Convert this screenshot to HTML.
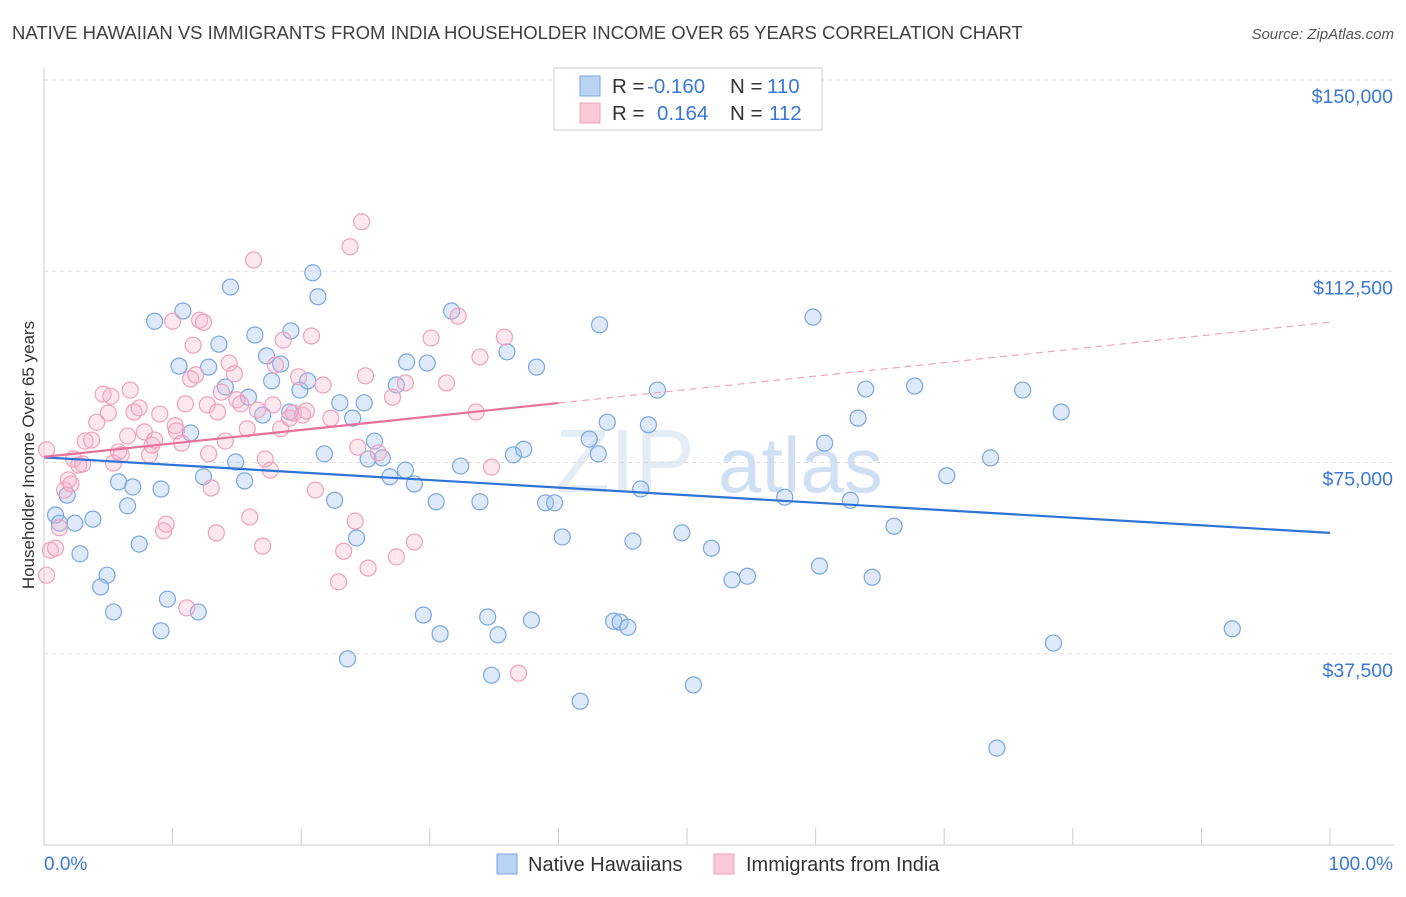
<!DOCTYPE html>
<html><head><meta charset="utf-8"><style>
body{margin:0;background:#fff;font-family:"Liberation Sans",sans-serif;}
svg text{font-family:"Liberation Sans",sans-serif;}
</style></head><body>
<svg id="chart" width="1406" height="892" xmlns="http://www.w3.org/2000/svg">
<text x="12" y="39" font-size="18.5" fill="#404040">NATIVE HAWAIIAN VS IMMIGRANTS FROM INDIA HOUSEHOLDER INCOME OVER 65 YEARS CORRELATION CHART</text>
<text x="1394" y="39" font-size="15" fill="#555" font-style="italic" text-anchor="end">Source: ZipAtlas.com</text>
<text transform="translate(34,455) rotate(-90)" font-size="17" fill="#333" text-anchor="middle">Householder Income Over 65 years</text>
<text x="555" y="492" font-size="90" fill="#e4ecf6" font-family="Liberation Serif">ZIP</text>
<text x="718" y="492" font-size="78" fill="#cfe0f4">atlas</text>
<g id="grid"></g><g id="pts"></g><g id="lines"></g>
<g>
<rect x="554" y="68" width="268" height="62" fill="#fff" stroke="#ccc"/>
<rect x="580" y="76" width="20" height="20" fill="#b9d3f3" stroke="#7aa6e0"/>
<rect x="580" y="103" width="20" height="20" fill="#f9c9d8" stroke="#f0a0bc"/>
<text x="612" y="93" font-size="20.5" fill="#333">R = </text><text x="647" y="93" font-size="20.5" fill="#3a78d8">-0.160</text>
<text x="730" y="93" font-size="20.5" fill="#333">N = </text><text x="767" y="93" font-size="20.5" fill="#3a78d8">110</text>
<text x="612" y="120" font-size="20.5" fill="#333">R = </text><text x="657" y="120" font-size="20.5" fill="#3a78d8">0.164</text>
<text x="730" y="120" font-size="20.5" fill="#333">N = </text><text x="769" y="120" font-size="20.5" fill="#3a78d8">112</text>
</g>
<text x="44" y="870" font-size="19" fill="#3a78d8">0.0%</text>
<text x="1393" y="870" font-size="19" fill="#3a78d8" text-anchor="end">100.0%</text>
<g>
<rect x="497" y="854" width="20" height="20" fill="#b9d3f3" stroke="#7aa6e0"/>
<text x="528" y="871" font-size="20" fill="#333">Native Hawaiians</text>
<rect x="714" y="854" width="20" height="20" fill="#f9c9d8" stroke="#f0a0bc"/>
<text x="746" y="871" font-size="20" fill="#333">Immigrants from India</text>
</g>
</svg>
<script>
const yTicks=[37500,75000,112500,150000];
const yTickLabels=["$37,500","$75,000","$112,500","$150,000"];
const xTicks=[0,10,20,30,40,50,60,70,80,90,100];
const blueX=[0.9,1.8,1.2,2.4,3.8,2.8,4.9,4.4,5.4,6.5,7.4,5.8,6.9,8.6,9.1,9.1,9.6,10.5,10.8,12.0,11.4,12.4,12.8,13.6,14.1,14.5,14.9,15.6,15.9,16.4,17.0,17.7,17.3,18.4,19.1,19.2,19.9,20.5,20.9,21.3,21.8,22.6,23.0,23.6,24.0,24.3,24.9,25.2,25.7,26.3,26.9,27.4,28.1,28.2,28.8,29.5,29.8,30.5,30.8,31.7,32.4,33.9,34.5,34.8,35.3,36.0,36.5,37.3,37.9,38.3,39.0,39.7,40.3,41.7,42.4,43.1,43.2,43.8,44.3,44.8,45.4,45.8,46.4,47.0,47.7,49.6,50.5,51.9,53.5,54.7,57.6,59.8,60.3,60.7,62.7,63.3,63.9,64.4,66.1,67.7,70.2,73.6,74.1,76.1,78.5,79.1,92.4];
const blueY=[64.7,68.6,63.1,63.1,63.9,57.1,52.9,50.6,45.7,66.5,59.0,71.2,70.2,102.7,69.8,42.0,48.2,93.9,104.7,45.7,80.8,72.2,93.7,98.2,89.8,109.4,75.1,71.4,87.8,100.0,84.3,91.0,95.9,94.3,84.9,100.8,89.2,91.0,112.2,107.5,76.7,67.6,86.7,36.5,83.7,60.2,86.7,75.7,79.2,75.9,72.2,90.2,73.5,94.7,70.8,45.1,94.5,67.3,41.4,104.7,74.3,67.3,44.7,33.3,41.2,96.7,76.5,77.6,44.1,93.7,67.1,67.1,60.4,28.2,79.6,76.7,102.0,82.9,43.9,43.7,42.7,59.6,69.8,82.4,89.2,61.2,31.4,58.2,52.0,52.7,68.2,103.5,54.7,78.8,67.6,83.7,89.4,52.5,62.5,90.0,72.4,75.9,19.0,89.2,39.6,84.9,42.4];
const pinkX=[0.2,0.5,0.9,1.2,1.6,1.9,2.1,2.3,2.7,3.0,3.2,3.7,4.1,4.6,5.0,5.2,5.4,5.8,6.0,6.5,6.7,7.0,7.4,7.8,8.2,8.4,8.6,9.0,9.3,9.5,10.0,10.2,10.3,10.7,11.0,11.1,11.4,11.6,11.8,12.1,12.4,12.7,12.8,13.0,13.4,13.5,13.8,14.1,14.4,14.8,15.0,15.3,15.8,16.0,16.3,16.6,17.0,17.2,17.6,17.8,18.0,18.4,18.6,19.1,19.4,19.8,20.1,20.4,20.8,21.1,21.7,22.3,22.9,23.3,23.8,24.2,24.4,24.7,25.0,25.2,26.0,27.1,27.4,28.1,28.8,30.1,31.3,32.2,33.6,33.9,34.8,35.8,36.9,0.2];
const pinkY=[52.9,57.8,58.2,62.2,69.6,71.6,70.8,75.7,74.5,74.7,79.2,79.4,82.9,88.4,84.7,88.0,74.9,77.1,76.5,80.2,89.2,84.9,85.7,81.0,76.5,78.4,79.4,84.5,61.6,62.9,102.7,82.2,81.2,78.8,86.5,46.5,91.4,98.0,92.2,102.9,102.5,86.3,76.7,70.0,61.2,84.9,88.8,79.2,94.5,92.4,87.3,86.5,81.6,64.3,114.7,85.3,58.6,75.7,73.5,86.3,94.1,81.6,99.0,83.7,84.7,91.8,84.3,85.1,99.8,69.6,90.2,83.7,51.6,57.6,117.3,63.5,78.0,122.2,92.0,54.3,76.9,87.8,56.5,90.6,59.4,99.4,90.6,103.7,84.9,95.7,74.1,99.6,33.7,77.5];
const blueTrend=[76.0,61.2];
const pinkTrend=[76.1,102.5];
const pinkSolidEnd=40;

const NS="http://www.w3.org/2000/svg";
const X0=44,X1=1330,YB=845,YT=80;
const sx=v=>X0+(X1-X0)*v/100;
const sy=v=>YB-(YB-YT)*v/150000;
function mk(tag,attrs,parent){const e=document.createElementNS(NS,tag);for(const k in attrs)e.setAttribute(k,attrs[k]);parent.appendChild(e);return e;}
const grid=document.getElementById('grid');
mk('line',{x1:X0,y1:68,x2:X0,y2:YB,stroke:'#ccc'},grid);
mk('line',{x1:X0,y1:YB,x2:1394,y2:YB,stroke:'#ccc'},grid);
yTicks.forEach((t,i)=>{
  const l=mk('line',{x1:X0,y1:sy(t),x2:1394,y2:sy(t),stroke:'#ddd','stroke-dasharray':'4,4'},grid);
  
  
  const tx=mk('text',{x:1393,y:sy(t)+23,'font-size':19.5,fill:'#3a78d8','text-anchor':'end'},grid);
  tx.textContent=yTickLabels[i];
  
  
});
xTicks.forEach(t=>{
  const l=mk('line',{x1:sx(t),y1:828,x2:sx(t),y2:YB,stroke:'#ccc'},grid);
  
  
});
const pts=document.getElementById('pts');
blueX.forEach((x,i)=>{
  const c=mk('circle',{cx:sx(x),cy:sy(blueY[i]*1000),r:8,fill:'rgba(160,195,240,0.35)',stroke:'#7aa6e0','stroke-width':1.2},pts);
  
  
});
pinkX.forEach((x,i)=>{
  const c=mk('circle',{cx:sx(x),cy:sy(pinkY[i]*1000),r:8,fill:'rgba(248,180,204,0.3)',stroke:'#f0a0bc','stroke-width':1.2},pts);
  
  
});
const lines=document.getElementById('lines');
const bl=mk('line',{x1:sx(0),y1:sy(blueTrend[0]*1000),x2:sx(100),y2:sy(blueTrend[1]*1000),stroke:'#2e74d6','stroke-width':2.2},lines);


const pAt=x=>pinkTrend[0]+(pinkTrend[1]-pinkTrend[0])*x/100;
const pl=mk('line',{x1:sx(0),y1:sy(pAt(0)*1000),x2:sx(pinkSolidEnd),y2:sy(pAt(pinkSolidEnd)*1000),stroke:'#e8709a','stroke-width':2.2},lines);


const pd=mk('line',{x1:sx(pinkSolidEnd),y1:sy(pAt(pinkSolidEnd)*1000),x2:sx(100),y2:sy(pAt(100)*1000),stroke:'#eea0ba','stroke-width':1.2,'stroke-dasharray':'7,5'},lines);


</script>
</body></html>
